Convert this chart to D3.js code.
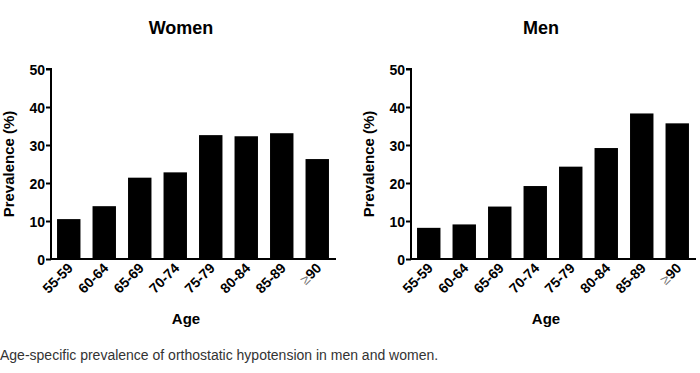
<!DOCTYPE html>
<html>
<head>
<meta charset="utf-8">
<script src="https://cdn.jsdelivr.net/npm/d3@7"></script>
<style>
  body { margin: 0; background: #fff; }
  svg { display: block; font-family: "Liberation Sans", Arial, sans-serif; }
</style>
</head>
<body>
<div id="chart"></div>
<script>
// Data
const ageGroups = ["55-59", "60-64", "65-69", "70-74", "75-79", "80-84", "85-89", "≥90"];
const women = [10.5, 13.9, 21.4, 22.8, 32.6, 32.3, 33.1, 26.3];
const men = [8.2, 9.1, 13.8, 19.2, 24.3, 29.2, 38.3, 35.7];
const yTicks = [0, 10, 20, 30, 40, 50];
const caption = "Age-specific prevalence of orthostatic hypotension in men and women.";

const width = 700;
const height = 373;

const svg = d3.select("#chart")
    .append("svg")
    .attr("width", width)
    .attr("height", height);

// Shared y scale
const y = d3.scaleLinear()
    .domain([0, 50])
    .range([259, 69]);

function drawPanel(title, values, x0, x1, titleX) {
    const g = svg.append("g");

    const x = d3.scaleBand()
        .domain(ageGroups)
        .range([x0, x1])
        .paddingInner(0.34)
        .paddingOuter(0.17);

    // Bars
    g.append("g")
        .selectAll("rect")
        .data(values)
        .enter()
        .append("rect")
        .attr("x", (d, i) => x(ageGroups[i]))
        .attr("width", x.bandwidth())
        .attr("y", d => y(d))
        .attr("height", d => y(0) - y(d))
        .attr("fill", "#000");

    // Y axis
    const yAxis = g.append("g")
        .attr("transform", `translate(${x0},0)`)
        .call(d3.axisLeft(y).tickValues(yTicks).tickSize(5).tickPadding(1));
    yAxis.select(".domain").attr("stroke-width", 2).attr("d", `M-5,${y(50)}H0V${y(0) + 1}`);
    yAxis.selectAll(".tick line").attr("stroke-width", 2);
    yAxis.selectAll(".tick text")
        .style("font-size", "14px")
        .style("font-weight", "bold")
        .attr("fill", "#000")
        .attr("dy", "0.36em");

    // X axis baseline
    const xAxis = g.append("g")
        .attr("transform", `translate(0,${y(0)})`)
        .call(d3.axisBottom(x).tickSize(0).tickPadding(0));
    xAxis.select(".domain").attr("stroke-width", 2).attr("d", `M${x0},0H${x1 + 1}`);
    xAxis.selectAll(".tick text").remove();

    // Rotated category labels
    const labels = xAxis.selectAll(".tick")
        .append("text")
        .attr("text-anchor", "end")
        .attr("transform", "translate(5,10) rotate(-45)")
        .attr("fill", "#000")
        .style("font-size", "14px")
        .style("font-weight", "bold");
    labels.each(function(d) {
        const t = d3.select(this);
        if (d.startsWith("≥")) {
            t.append("tspan").attr("fill", "#777").style("font-weight", "normal").text("≥");
            t.append("tspan").text(d.slice(1));
        } else {
            t.text(d);
        }
    });

    // Title
    g.append("text")
        .attr("x", titleX)
        .attr("y", 34)
        .attr("text-anchor", "middle")
        .style("font-size", "18px")
        .style("font-weight", "bold")
        .text(title);

    // Axis titles
    g.append("text")
        .attr("x", (x0 + x1) / 2 - 7)
        .attr("y", 324)
        .attr("text-anchor", "middle")
        .style("font-size", "15px")
        .style("font-weight", "bold")
        .text("Age");

    g.append("text")
        .attr("transform", `translate(${x0 - 37},${164}) rotate(-90)`)
        .attr("text-anchor", "middle")
        .style("font-size", "15px")
        .style("font-weight", "bold")
        .text("Prevalence (%)");
}

drawPanel("Women", women, 51, 335, 181);
drawPanel("Men", men, 411, 695, 541);

// Caption
svg.append("text")
    .attr("x", 0)
    .attr("y", 360)
    .attr("fill", "#333")
    .style("font-size", "14px")
    .text(caption);
</script>
</body>
</html>
